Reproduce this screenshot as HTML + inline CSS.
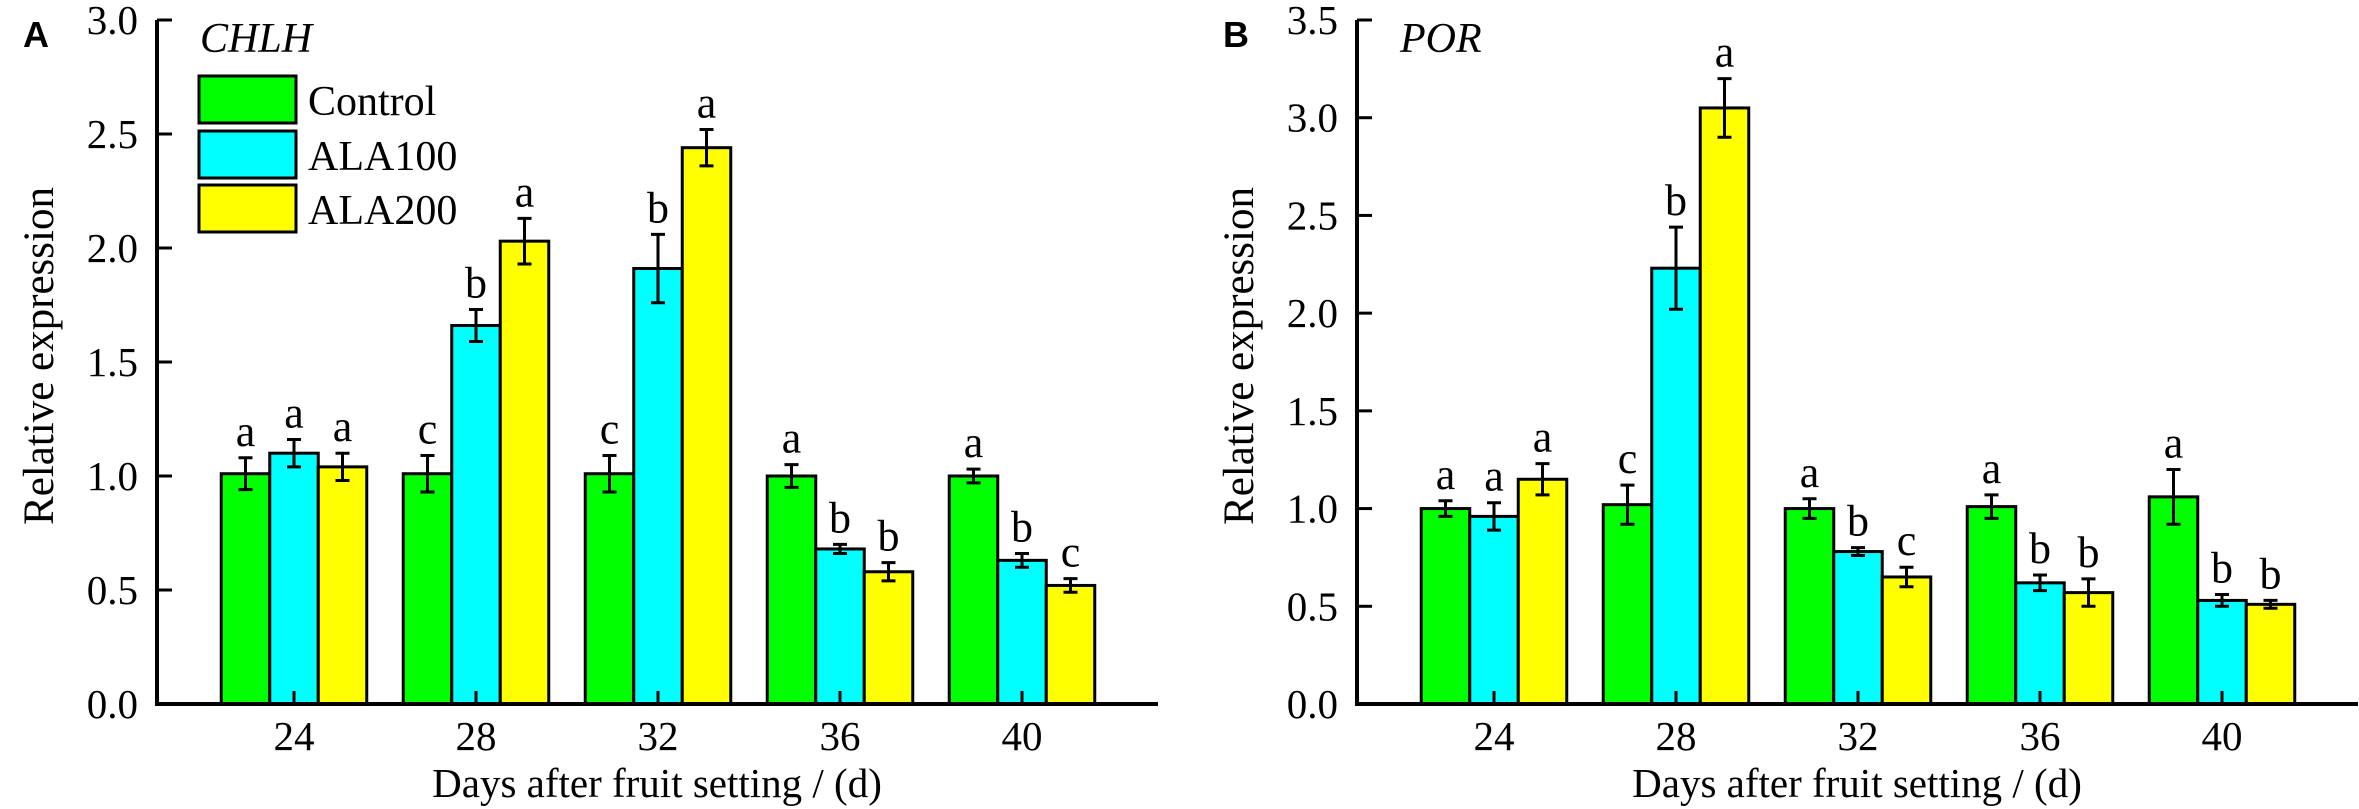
<!DOCTYPE html>
<html><head><meta charset="utf-8"><style>
html,body{margin:0;padding:0;background:#fff;}
svg{display:block;font-family:"Liberation Serif",serif;}
</style></head><body>
<svg id="fig" width="2359" height="809" viewBox="0 0 2359 809" xmlns="http://www.w3.org/2000/svg">
<g id="panelA"></g>
<g id="panelB"></g>
</svg>
<script>
const categories = ["24","28","32","36","40"];
const seriesNames = ["Control","ALA100","ALA200"];
const seriesColors = ["#00ff00","#00ffff","#ffff00"];
// Panel A CHLH
const chlhControl = [1.01,1.01,1.01,1.00,1.00];
const chlhAla100 = [1.10,1.66,1.91,0.68,0.63];
const chlhAla200 = [1.04,2.03,2.44,0.58,0.52];
const chlhErrControl = [0.07,0.08,0.08,0.05,0.03];
const chlhErrAla100 = [0.06,0.07,0.15,0.02,0.03];
const chlhErrAla200 = [0.06,0.10,0.08,0.04,0.03];
const chlhLetters = [["a","a","a"],["c","b","a"],["c","b","a"],["a","b","b"],["a","b","c"]];
const chlhTicks = ["0.0","0.5","1.0","1.5","2.0","2.5","3.0"];
// Panel B POR
const porControl = [1.00,1.02,1.00,1.01,1.06];
const porAla100 = [0.96,2.23,0.78,0.62,0.53];
const porAla200 = [1.15,3.05,0.65,0.57,0.51];
const porErrControl = [0.04,0.10,0.05,0.06,0.14];
const porErrAla100 = [0.07,0.21,0.02,0.04,0.03];
const porErrAla200 = [0.08,0.15,0.05,0.07,0.02];
const porLetters = [["a","a","a"],["c","b","a"],["a","b","c"],["a","b","b"],["a","b","b"]];
const porTicks = ["0.0","0.5","1.0","1.5","2.0","2.5","3.0","3.5"];

const NS="http://www.w3.org/2000/svg";
function mk(parent,tag,attrs,text){const e=document.createElementNS(NS,tag);for(const k in attrs)e.setAttribute(k,attrs[k]);if(text!==undefined)e.textContent=text;parent.appendChild(e);return e;}

function drawPanel(g,opt){
  const x0=opt.x0, x1=opt.x0+1001, y0=704, yTop=20;
  const ymax=parseFloat(opt.ticks[opt.ticks.length-1]);
  const yScale=v=>y0-(v/ymax)*(y0-yTop);
  const groupStart=x0+137, groupStep=182, bw=48.5;
  const xCenter=i=>groupStart+i*groupStep;
  let t=mk(g,"text",{x:opt.x0-134,y:47,"font-family":"Liberation Sans, sans-serif","font-weight":"bold","font-size":36});
  t.textContent=opt.letter;
  
  
  t=mk(g,"text",{x:x0+43,y:52,"font-style":"italic","font-size":42},opt.gene);
  
  
  const vals=opt.values, errs=opt.errors;
  for(let i=0;i<categories.length;i++){
    for(let s=0;s<3;s++){
      const v=vals[s][i], e=errs[s][i];
      const bx=xCenter(i)+(s-1.5)*bw;
      const r=mk(g,"rect",{x:bx,y:yScale(v),width:bw,height:y0-yScale(v),fill:seriesColors[s],stroke:"#000","stroke-width":3});
      
      
      const cx=bx+bw/2;
      const eb=mk(g,"path",{d:`M${cx-7},${yScale(v+e)}H${cx+7}M${cx},${yScale(v+e)}V${yScale(v-e)}M${cx-7},${yScale(v-e)}H${cx+7}`,stroke:"#000","stroke-width":3,fill:"none"});
      
      
      const lt=mk(g,"text",{x:cx,y:yScale(v+e)-12,"text-anchor":"middle","font-size":44},opt.letters[i][s]);
      
      
    }
    const tk=mk(g,"line",{x1:xCenter(i),x2:xCenter(i),y1:y0,y2:y0-13,stroke:"#000","stroke-width":3});
    
    
    const tl=mk(g,"text",{x:xCenter(i),y:750,"text-anchor":"middle","font-size":41},categories[i]);
    
    
  }
  const ax=mk(g,"path",{d:`M${x0},${yTop}V${y0}H${x1}`,stroke:"#000","stroke-width":4,fill:"none"});
  
  
  opt.ticks.forEach(tv=>{
    const v=parseFloat(tv), y=yScale(v);
    const l=mk(g,"line",{x1:x0,x2:x0+15,y1:y,y2:y,stroke:"#000","stroke-width":3});
    
    
    const tx=mk(g,"text",{x:x0-19,y:y+14,"text-anchor":"end","font-size":41},tv);
    
    
  });
  const yt=mk(g,"text",{x:0,y:0,"text-anchor":"middle","font-size":43,transform:`translate(${x0-104},356) rotate(-90)`},"Relative expression");
  
  
  const xt=mk(g,"text",{x:x0+500,y:797,"text-anchor":"middle","font-size":41},"Days after fruit setting / (d)");
  
  
  if(opt.legend){
    const lg=mk(g,"g",{});
    
    
    const ys=[76,131,185];
    for(let s=0;s<3;s++){
      const r=mk(lg,"rect",{x:199,y:ys[s],width:97,height:47,fill:seriesColors[s],stroke:"#000","stroke-width":3});
      
      
      const lt=mk(lg,"text",{x:308,y:ys[s]+39,"font-size":42},seriesNames[s]);
      
      
    }
  }
}
drawPanel(document.getElementById('panelA'),{x0:157,letter:"A",gene:"CHLH",ticks:chlhTicks,
  values:[chlhControl,chlhAla100,chlhAla200],errors:[chlhErrControl,chlhErrAla100,chlhErrAla200],letters:chlhLetters,legend:true});
drawPanel(document.getElementById('panelB'),{x0:1357,letter:"B",gene:"POR",ticks:porTicks,
  values:[porControl,porAla100,porAla200],errors:[porErrControl,porErrAla100,porErrAla200],letters:porLetters,legend:false});
</script>
</body></html>
